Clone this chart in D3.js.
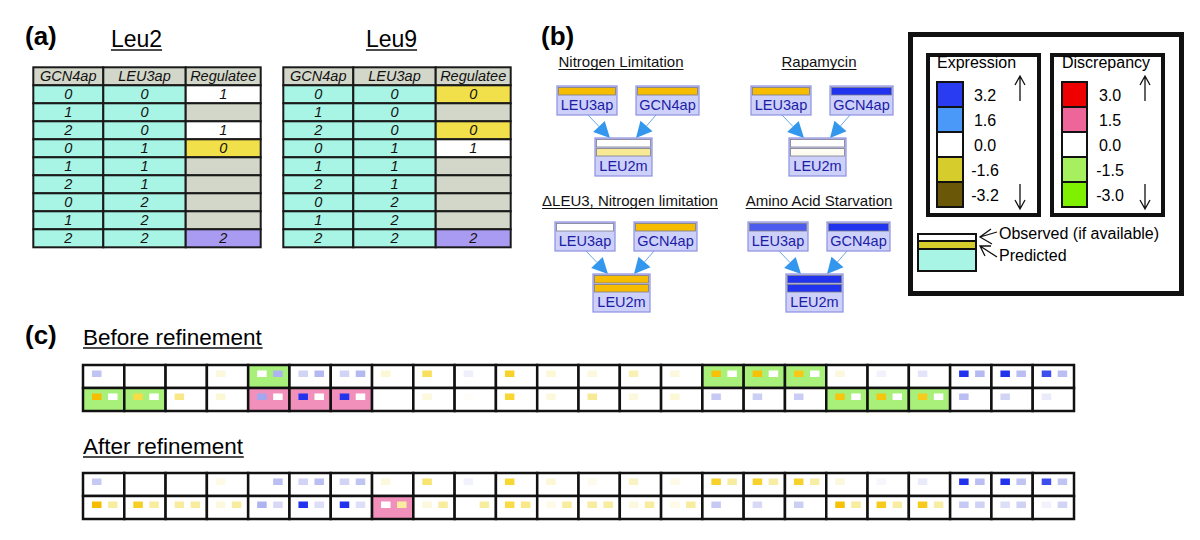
<!DOCTYPE html>
<html lang="en">
<head>
<meta charset="utf-8">
<title>Leu2 / Leu9 regulation</title>
<script src="https://cdn.jsdelivr.net/npm/d3@7"></script>
<style>
  body { margin: 0; background: #fff; }
  svg { display: block; font-family: "Liberation Sans", Arial, sans-serif; }
  .tbl text { font-style: italic; font-size: 14.5px; fill: #111; text-anchor: middle; }
  .node text { font-size: 14.5px; fill: #1c1ca6; text-anchor: middle; }
  .lab { font-weight: bold; font-size: 26px; }
</style>
</head>
<body>
<svg width="1200" height="540"></svg>
<script>
// ---- panel (a): truth tables
var tableHeader = ["GCN4ap", "LEU3ap", "Regulatee"];
var gcn4Level = [0, 1, 2, 0, 1, 2, 0, 1, 2];
var leu3Level = [0, 0, 0, 1, 1, 1, 2, 2, 2];
var leu2Out = ["1", "", "1", "0", "", "", "", "", "2"];
var leu9Out = ["0", "", "0", "1", "", "", "", "", "2"];

// ---- panel (b): conditions, log expression of each node
var conditions = ["Nitrogen Limitation", "Rapamycin", "\u0394LEU3, Nitrogen limitation", "Amino Acid Starvation"];
var leu3apExpr = [-2.5, -2.5, 0, 2.4];
var gcn4apExpr = [-2.5, 3, -2.5, 3];
var leu2mObserved = [0, 0, -2.5, 3];
var leu2mPredicted = [-0.7, -0.08, -2.5, 3];

// ---- legend
var exprLabels = ["3.2", "1.6", "0.0", "-1.6", "-3.2"];
var exprColors = ["#2a3cf2", "#4a98f8", "#ffffff", "#d6cc2c", "#6a5808"];
var discLabels = ["3.0", "1.5", "0.0", "-1.5", "-3.0"];
var discColors = ["#ee0000", "#ee6699", "#ffffff", "#a6f060", "#7ef000"];

// ---- panel (c): 24 experiments x 2 rows; left square, right square, discrepancy
var beforeTopLeft  = [0.7, null, null, -0.2, 0, 0.4, 0.4, -0.25, -1.2, 0.15, -1.7, -0.25, -0.2, -0.45, -0.2, -2.2, -2.2, -2.0, -0.2, 0.12, 0.25, 3.0, 3.0, 2.6];
var beforeTopRight = [null, null, null, null, 1.0, 0.9, 0.9, null, null, null, null, null, null, null, null, 0, 0, 0, null, null, null, 0.9, 0.8, 0.8];
var beforeTopDisc  = [0, 0, 0, 0, -1, 0, 0, 0, 0, 0, 0, 0, 0, 0, 0, -1, -1, -1, 0, 0, 0, 0, 0, 0];
var beforeBotLeft  = [-2.3, -1.4, -0.8, -0.25, 1.2, 3.0, 3.0, null, -0.2, -0.05, -1.6, -0.2, -0.7, -0.2, -0.25, 0.6, 0.5, 0.55, -2.1, -2.1, -1.9, 0.8, 0.4, 0.2];
var beforeBotRight = [0, 0, null, null, 0, 0, 0, null, null, null, null, null, null, null, null, null, null, null, 0, 0, 0, null, null, null];
var beforeBotDisc  = [-1, -1, 0, 0, 1, 1, 1, 0, 0, 0, 0, 0, 0, 0, 0, 0, 0, 0, -1, -1, -1, 0, 0, 0];

var afterTopLeft  = [0.6, null, null, -0.15, null, 0.4, 0.4, -0.2, -1.0, 0.12, -1.6, -0.25, -0.12, -0.35, -0.15, -1.7, -1.7, -1.7, -0.2, 0.08, 0.2, 3.0, 3.0, 2.6];
var afterTopRight = [null, null, null, null, 0.8, 0.8, 0.7, null, null, null, null, null, null, null, null, -0.6, -0.55, -0.55, null, null, null, 0.8, 0.7, 0.7];
var afterTopDisc  = [0, 0, 0, 0, 0, 0, 0, 0, 0, 0, 0, 0, 0, 0, 0, 0, 0, 0, 0, 0, 0, 0, 0, 0];
var afterBotLeft  = [-2.3, -1.8, -0.6, -0.2, 1.0, 3.0, 3.0, 0, -0.2, null, -1.4, -0.15, -0.6, -0.2, -0.15, 0.6, 0.35, 0.5, -2.2, -1.9, -1.9, 0.6, 0.3, 0.12];
var afterBotRight = [-0.6, -0.6, -0.6, -0.6, 0.35, 0.3, 0.3, -0.6, -0.6, -0.6, -0.8, -0.6, -0.6, -0.6, -0.6, null, null, null, -0.6, -0.55, -0.55, 0.45, 0.45, 0.4];
var afterBotDisc  = [0, 0, 0, 0, 0, 0, 0, 1, 0, 0, 0, 0, 0, 0, 0, 0, 0, 0, 0, 0, 0, 0, 0, 0];

var svg = d3.select("svg");

var exprColor = d3.scaleLinear()
    .domain([-2.3, -1.5, -0.5, 0, 0.4, 1.2, 3])
    .range(["#f6bd00", "#f8d93a", "#f8eeaa", "#ffffff", "#d2d4f5", "#a2a8ef", "#2233ee"])
    .clamp(true);
var discColor = d3.scaleOrdinal().domain([-1, 0, 1]).range(["#a8f07a", "#ffffff", "#f290bc"]);
var outColor = d3.scaleOrdinal().domain(["", "0", "1", "2"]).range(["#d3d7c9", "#f2e04a", "#ffffff", "#a99bf2"]);

function underline(t, dy, w) {
  var b = t.node().getBBox();
  svg.append("line")
      .attr("x1", b.x).attr("x2", b.x + b.width)
      .attr("y1", +t.attr("y") + dy).attr("y2", +t.attr("y") + dy)
      .attr("stroke", "#111").attr("stroke-width", w);
}

// ================= panel (a)
svg.append("text").attr("class", "lab").attr("x", 25).attr("y", 45).text("(a)");

function drawTable(x0, title, titleX, outs) {
  var colW = [70, 82.4, 75];
  var colX = [x0, x0 + colW[0], x0 + colW[0] + colW[1]];
  var y = d3.scaleBand().domain(d3.range(10)).range([67.3, 247.3]);
  var t = svg.append("text").attr("x", titleX).attr("y", 47)
      .attr("text-anchor", "middle").attr("font-size", 23).text(title);
  underline(t, 3, 1.6);

  var cells = [];
  tableHeader.forEach(function(h, c) { cells.push({r: 0, c: c, t: h, fill: "#d3d7c9"}); });
  gcn4Level.forEach(function(v, i) {
    cells.push({r: i + 1, c: 0, t: v, fill: "#a9f5e5"});
    cells.push({r: i + 1, c: 1, t: leu3Level[i], fill: "#a9f5e5"});
    cells.push({r: i + 1, c: 2, t: outs[i], fill: outColor(outs[i])});
  });
  var g = svg.append("g").attr("class", "tbl");
  g.selectAll("rect").data(cells).join("rect")
      .attr("x", function(d) { return colX[d.c]; })
      .attr("y", function(d) { return y(d.r); })
      .attr("width", function(d) { return colW[d.c]; })
      .attr("height", y.bandwidth())
      .attr("fill", function(d) { return d.fill; })
      .attr("stroke", "#1a1a1a").attr("stroke-width", 2);
  g.selectAll("text").data(cells).join("text")
      .attr("x", function(d) { return colX[d.c] + colW[d.c] / 2; })
      .attr("y", function(d) { return y(d.r) + y.bandwidth() / 2 + 5; })
      .text(function(d) { return d.t; });
}
drawTable(33.3, "Leu2", 136.5, leu2Out);
drawTable(283.3, "Leu9", 391.5, leu9Out);

// ================= panel (b)
svg.append("text").attr("class", "lab").attr("x", 541).attr("y", 45).text("(b)");

var condPos = [[557, 86, 621, 67], [751, 86, 819, 67], [555, 222, 630, 206], [748, 222, 819, 206]];

function arrow(g, x1, y1, x2, y2) {
  var dx = x2 - x1, dy = y2 - y1, L = Math.sqrt(dx * dx + dy * dy);
  var ux = dx / L, uy = dy / L, hl = 16, hw = 8;
  var bx = x2 - ux * hl, by = y2 - uy * hl;
  g.append("line").attr("x1", x1).attr("y1", y1).attr("x2", bx).attr("y2", by)
      .attr("stroke", "#6aa6e8").attr("stroke-width", 1);
  g.append("path")
      .attr("d", "M" + x2 + "," + y2 + "L" + (bx - uy * hw) + "," + (by + ux * hw) +
                 "L" + (bx + uy * hw) + "," + (by - ux * hw) + "Z")
      .attr("fill", "#3497ee");
}

function node(g, x, y, w, label, bars) {
  var h = 12 + bars.length * 9 + 8;
  g.append("rect").attr("x", x).attr("y", y).attr("width", w).attr("height", h)
      .attr("fill", "#cdd0f8").attr("stroke", "#8c90e2").attr("stroke-width", 1.2);
  bars.forEach(function(v, i) {
    g.append("rect").attr("x", x + 1.5).attr("y", y + 1.5 + i * 9).attr("width", w - 3).attr("height", 7.5)
        .attr("fill", exprColor(v)).attr("stroke", "#7c7c8c").attr("stroke-width", 0.8);
  });
  g.append("text").attr("x", x + w / 2).attr("y", y + h - 5).text(label);
}

conditions.forEach(function(c, i) {
  var p = condPos[i];
  var t = svg.append("text").attr("x", p[2]).attr("y", p[3])
      .attr("text-anchor", "middle").attr("font-size", 15).attr("fill", "#111").text(c);
  underline(t, 2.5, 1.1);
  var g = svg.append("g").attr("class", "node");
  var x0 = p[0], y0 = p[1];
  arrow(g, x0 + 31, y0 + 29, x0 + 53, y0 + 52);
  arrow(g, x0 + 99, y0 + 29, x0 + 79, y0 + 52);
  node(g, x0, y0, 60, "LEU3ap", [leu3apExpr[i]]);
  node(g, x0 + 79, y0, 63, "GCN4ap", [gcn4apExpr[i]]);
  node(g, x0 + 38, y0 + 52, 57, "LEU2m", [leu2mObserved[i], leu2mPredicted[i]]);
});

// ================= legend
var leg = svg.append("g");
leg.append("rect").attr("x", 910.5).attr("y", 34.5).attr("width", 271).attr("height", 259)
    .attr("fill", "#fff").attr("stroke", "#111").attr("stroke-width", 5);

function vArrow(x, y1, y2) {
  var s = y2 > y1 ? 1 : -1;
  leg.append("path")
      .attr("d", "M" + x + "," + y1 + "V" + y2 + "M" + (x - 5) + "," + (y2 - s * 9) + "L" + x + "," + y2 + "L" + (x + 5) + "," + (y2 - s * 9))
      .attr("fill", "none").attr("stroke", "#111").attr("stroke-width", 1.3);
}

function scaleBox(bx, title, labels, colors, sx, sw, lx, ax) {
  leg.append("rect").attr("x", bx).attr("y", 55).attr("width", 111).attr("height", 160)
      .attr("fill", "#fff").attr("stroke", "#111").attr("stroke-width", 4);
  leg.append("text").attr("x", sx).attr("y", 68).attr("font-size", 16).text(title);
  var y = d3.scaleBand().domain(labels).range([82, 207]);
  leg.selectAll(null).data(labels).join("rect")
      .attr("x", sx).attr("y", function(d) { return y(d); })
      .attr("width", sw).attr("height", y.bandwidth())
      .attr("fill", function(d, i) { return colors[i]; })
      .attr("stroke", "#111").attr("stroke-width", 2);
  leg.selectAll(null).data(labels).join("text")
      .attr("x", lx).attr("y", function(d) { return y(d) + y.bandwidth() / 2 + 6; })
      .attr("text-anchor", "middle").attr("font-size", 16).text(function(d) { return d; });
  vArrow(ax, 101, 76);
  vArrow(ax, 184, 209);
}
scaleBox(928, "Expression", exprLabels, exprColors, 937, 26, 985, 1020);
scaleBox(1052, "Discrepancy", discLabels, discColors, 1062, 25, 1110, 1145);

// observed / predicted key
leg.append("rect").attr("x", 918).attr("y", 234).attr("width", 58).attr("height", 37)
    .attr("fill", "#a9f5e5").attr("stroke", "#111").attr("stroke-width", 2);
leg.append("rect").attr("x", 918).attr("y", 234).attr("width", 58).attr("height", 7)
    .attr("fill", "#fff").attr("stroke", "#111").attr("stroke-width", 2);
leg.append("rect").attr("x", 918).attr("y", 241).attr("width", 58).attr("height", 8)
    .attr("fill", "#d6cc2c").attr("stroke", "#111").attr("stroke-width", 2);
leg.append("path").attr("d", "M997,232L980,237M991,229L980,237L992,244")
    .attr("fill", "none").attr("stroke", "#111").attr("stroke-width", 1.3);
leg.append("path").attr("d", "M997,257L980,246M991,246L980,246L985,256")
    .attr("fill", "none").attr("stroke", "#111").attr("stroke-width", 1.3);
leg.append("text").attr("x", 999).attr("y", 239).attr("font-size", 16).text("Observed (if available)");
leg.append("text").attr("x", 999).attr("y", 261).attr("font-size", 16).text("Predicted");

// ================= panel (c)
svg.append("text").attr("class", "lab").attr("x", 25).attr("y", 344).text("(c)");

function drawGrid(title, ty, y0, rows) {
  var t = svg.append("text").attr("x", 83).attr("y", ty).attr("font-size", 22.5).text(title);
  underline(t, 3, 1.6);
  var x = d3.scaleBand().domain(d3.range(24)).range([83, 1074]);
  var y = d3.scaleBand().domain([0, 1]).range([y0, y0 + 46]);
  rows.forEach(function(r, ri) {
    var g = svg.append("g");
    var cells = r.disc.map(function(d, i) { return {i: i, disc: d, l: r.left[i], r: r.right[i]}; });
    g.selectAll("rect.cell").data(cells).join("rect").attr("class", "cell")
        .attr("x", function(d) { return x(d.i); }).attr("y", y(ri))
        .attr("width", x.bandwidth()).attr("height", y.bandwidth())
        .attr("fill", function(d) { return discColor(d.disc); })
        .attr("stroke", "#111").attr("stroke-width", 2.5);
    g.selectAll("rect.sl").data(cells.filter(function(d) { return d.l !== null; })).join("rect")
        .attr("x", function(d) { return x(d.i) + 9; }).attr("y", y(ri) + 5.5)
        .attr("width", 9.5).attr("height", 6.5)
        .attr("fill", function(d) { return exprColor(d.l); });
    g.selectAll("rect.sr").data(cells.filter(function(d) { return d.r !== null; })).join("rect")
        .attr("x", function(d) { return x(d.i) + 25; }).attr("y", y(ri) + 5.5)
        .attr("width", 9.5).attr("height", 6.5)
        .attr("fill", function(d) { return exprColor(d.r); });
  });
}

drawGrid("Before refinement", 345, 365, [
  {left: beforeTopLeft, right: beforeTopRight, disc: beforeTopDisc},
  {left: beforeBotLeft, right: beforeBotRight, disc: beforeBotDisc}
]);
drawGrid("After refinement", 454, 473, [
  {left: afterTopLeft, right: afterTopRight, disc: afterTopDisc},
  {left: afterBotLeft, right: afterBotRight, disc: afterBotDisc}
]);
</script>
</body>
</html>
